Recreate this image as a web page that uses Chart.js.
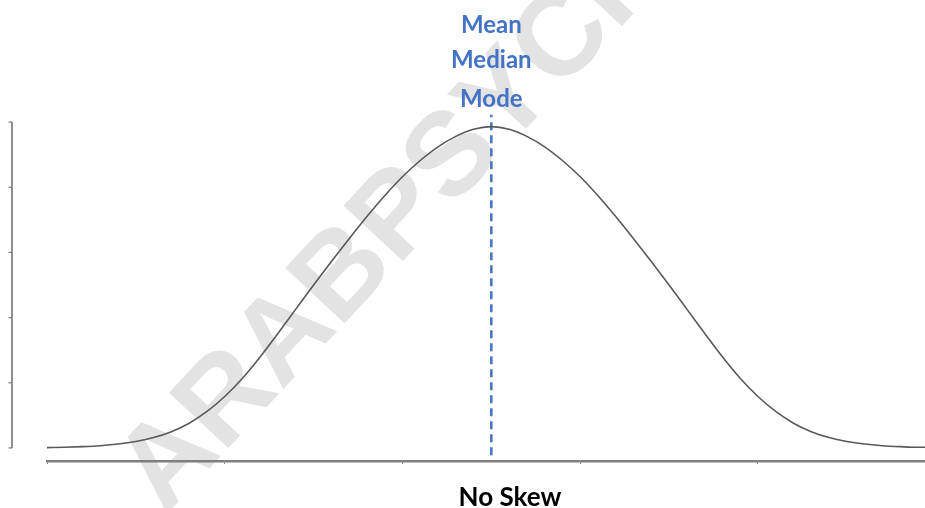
<!DOCTYPE html>
<html>
<head>
<meta charset="utf-8">
<title>No Skew</title>
<script src="https://cdn.jsdelivr.net/npm/chart.js@4.4.1/dist/chart.umd.min.js"></script>
<style>
    html, body { margin: 0; padding: 0; background: #ffffff; }
    #wrap { position: relative; width: 925px; height: 508px; }
</style>
</head>
<body>
<div id="wrap"><canvas id="grafico"></canvas></div>
<script>
// ============================================
// DADOS
// ============================================
const curveX = [0.0, 0.1, 0.2, 0.3, 0.4, 0.5, 0.6, 0.7, 0.8, 0.9,
                1.0, 1.1, 1.2, 1.3, 1.4, 1.5, 1.6, 1.7, 1.8, 1.9,
                2.0, 2.1, 2.2, 2.3, 2.4, 2.5, 2.6, 2.7, 2.8, 2.9,
                3.0, 3.1, 3.2, 3.3, 3.4, 3.5, 3.6, 3.7, 3.8, 3.9,
                4.0, 4.1, 4.2, 4.3, 4.4, 4.5, 4.6, 4.7, 4.8, 4.9, 4.94];
const curveY = [0.0005, 0.001, 0.002, 0.0035, 0.006, 0.010, 0.016, 0.025, 0.038, 0.056,
                0.079, 0.107, 0.140, 0.176, 0.213, 0.250, 0.286, 0.321, 0.355, 0.387,
                0.416, 0.441, 0.462, 0.478, 0.489, 0.493, 0.489, 0.478, 0.462, 0.441,
                0.416, 0.387, 0.355, 0.321, 0.286, 0.250, 0.213, 0.176, 0.140, 0.107,
                0.079, 0.056, 0.038, 0.025, 0.016, 0.010, 0.006, 0.0035, 0.002, 0.001, 0.001];
const meanX = 2.5;
const dashY = [-0.011, 0.511];
const xTicks = [0, 1, 2, 3, 4];
const yTicks = [0, 0.1, 0.2, 0.3, 0.4, 0.5];
const centreLabels = ['Mean', 'Median', 'Mode'];
const axisTitle = 'No Skew';
const watermark = 'ARABPSYCH';

const AZUL = '#4472C4';
const EIXO = '#7f7f7f';

// fundo + marca d'agua (desenhados antes dos eixos)
const fundoPlugin = {
    id: 'fundo',
    beforeDraw(chart) {
        const ctx = chart.ctx;
        ctx.save();
        ctx.fillStyle = '#ffffff';
        ctx.fillRect(0, 0, chart.width, chart.height);
        ctx.translate(165, 516);
        ctx.rotate(-47 * Math.PI / 180);
        ctx.fillStyle = '#e3e3e3';
        ctx.font = 'bold 118px "Liberation Sans", Arial, sans-serif';
        ctx.textBaseline = 'alphabetic';
        ctx.fillText(watermark, 0, 0);
        ctx.restore();
    }
};

// eixo Y separado do grafico, como no original
const eixoYPlugin = {
    id: 'eixoY',
    afterDraw(chart) {
        const y = chart.scales.y;
        const ctx = chart.ctx;
        const xPos = 12;
        ctx.save();
        ctx.strokeStyle = EIXO;
        ctx.lineWidth = 1.75;
        ctx.beginPath();
        ctx.moveTo(xPos, y.getPixelForValue(yTicks[0]));
        ctx.lineTo(xPos, y.getPixelForValue(yTicks[yTicks.length - 1]));
        ctx.stroke();
        ctx.lineWidth = 1.25;
        yTicks.forEach(v => {
            const py = y.getPixelForValue(v);
            ctx.beginPath();
            ctx.moveTo(xPos - 3.5, py);
            ctx.lineTo(xPos, py);
            ctx.stroke();
        });
        ctx.restore();
    }
};

// textos: Mean / Median / Mode e titulo de baixo
const textosPlugin = {
    id: 'textos',
    afterDraw(chart) {
        const ctx = chart.ctx;
        const cx = chart.scales.x.getPixelForValue(meanX);
        const baselines = [33, 68, 107];
        ctx.save();
        ctx.textAlign = 'center';
        ctx.textBaseline = 'alphabetic';
        ctx.fillStyle = AZUL;
        ctx.font = 'bold 24px Lato, "Open Sans", sans-serif';
        centreLabels.forEach((t, i) => ctx.fillText(t, cx, baselines[i]));
        ctx.fillStyle = '#000000';
        ctx.font = 'bold 26px Lato, "Open Sans", sans-serif';
        ctx.fillText(axisTitle, 510, 506);
        ctx.restore();
    }
};

new Chart(document.getElementById('grafico'), {
    type: 'line',
    data: {
        datasets: [
            {
                data: curveX.map((x, i) => ({ x, y: curveY[i] })),
                borderColor: '#595959',
                borderWidth: 1.6,
                pointRadius: 0,
                cubicInterpolationMode: 'monotone',
                fill: false
            },
            {
                data: dashY.map(y => ({ x: meanX, y })),
                borderColor: AZUL,
                borderWidth: 2.5,
                borderDash: [8, 5],
                pointRadius: 0,
                fill: false
            }
        ]
    },
    options: {
        responsive: true,
        maintainAspectRatio: false,
        animation: false,
        layout: { padding: { left: 47, right: 0, top: 109, bottom: 43 } },
        plugins: {
            legend: { display: false },
            tooltip: { enabled: false },
            title: { display: false }
        },
        scales: {
            x: {
                type: 'linear',
                min: 0,
                max: 4.94,
                afterBuildTicks: s => { s.ticks = xTicks.map(v => ({ value: v })); },
                afterFit: s => { s.height = 4; },
                ticks: { display: false },
                grid: { drawOnChartArea: false, drawTicks: true, tickLength: 3, color: EIXO, lineWidth: 1 },
                border: { display: true, color: EIXO, width: 2.5 }
            },
            y: {
                type: 'linear',
                display: false,
                min: -0.02,
                max: 0.52
            }
        }
    },
    plugins: [fundoPlugin, eixoYPlugin, textosPlugin]
});
</script>
</body>
</html>
